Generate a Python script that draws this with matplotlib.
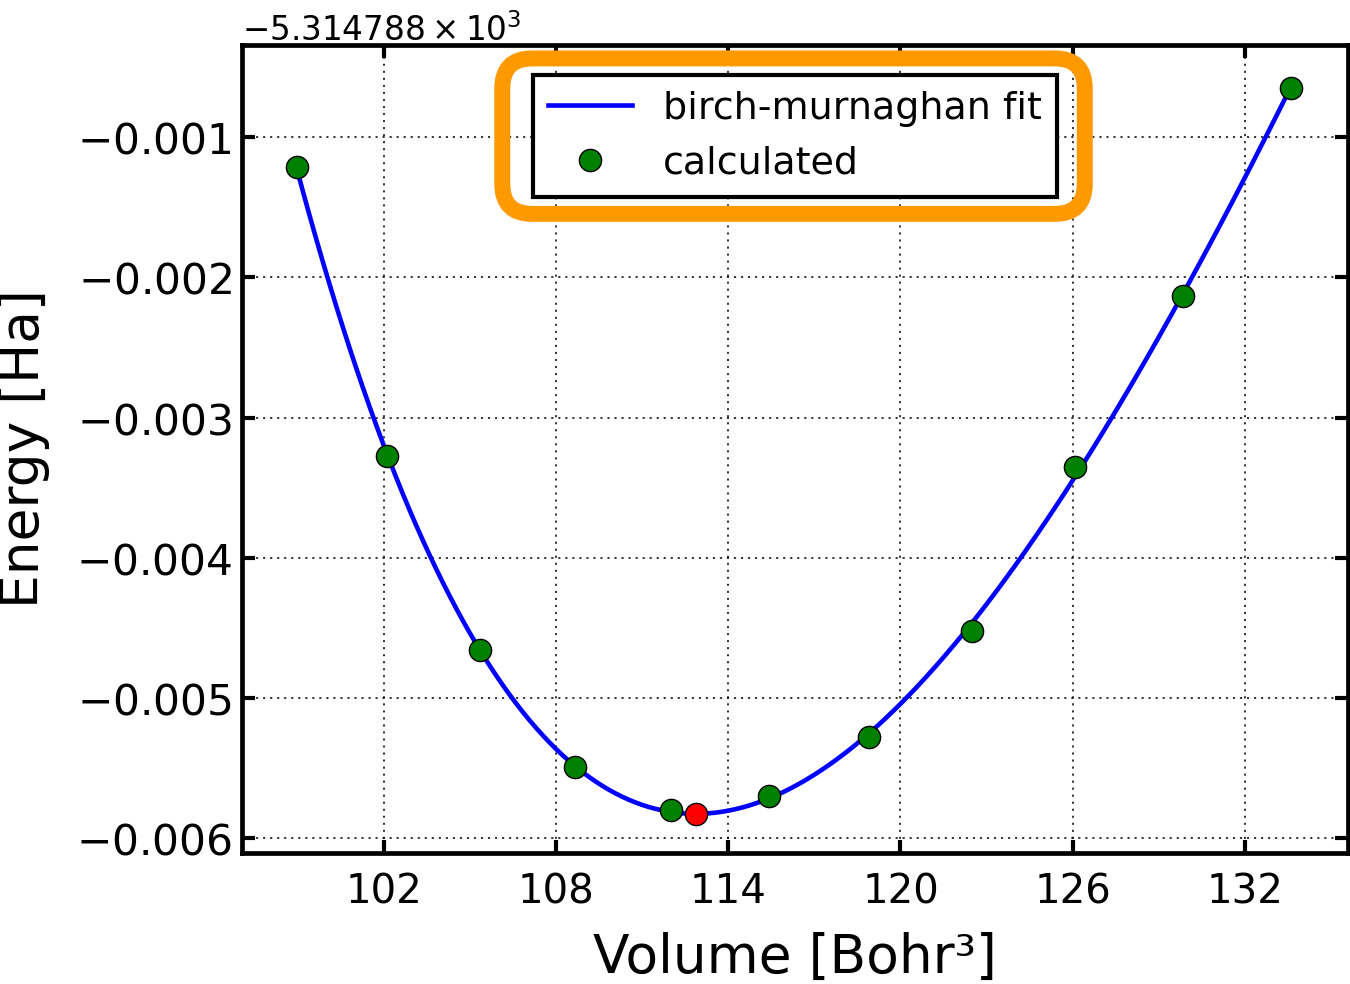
import numpy as np
import matplotlib
matplotlib.use('Agg')
import matplotlib.pyplot as plt
from matplotlib.ticker import ScalarFormatter
from matplotlib.patches import FancyBboxPatch
from matplotlib.transforms import IdentityTransform

# 体积-能量数据 (能量相对于偏移量)
e_offset = -5314.788
volume = [98.95, 102.11, 105.36, 108.64, 112.00, 115.43, 118.91, 122.48, 126.10, 129.84, 133.61]
energy_rel = [-0.001214, -0.003274, -0.004659, -0.005488, -0.005797, -0.005695,
              -0.005274, -0.004519, -0.003352, -0.002131, -0.000647]
v_min = [112.88]
e_min_rel = [-0.005826]

plt.rcParams['font.family'] = ['DejaVu Sans']
plt.rcParams['mathtext.fontset'] = 'dejavusans'

v = np.array(volume)
e = np.array(energy_rel)
# birch-murnaghan: E是 V^(-2/3) 的三次多项式
coef = np.polyfit(v ** (-2.0 / 3.0), e, 3)
vfit = np.linspace(v.min(), v.max(), 300)
efit = np.polyval(coef, vfit ** (-2.0 / 3.0))

fig = plt.figure(figsize=(13.5, 9.84), dpi=100)
ax = fig.add_axes([0.1793, 0.1331, 0.8192, 0.8212])

ax.plot(vfit, efit + e_offset, c='blue', lw=3.3, label='birch-murnaghan fit', zorder=3)
ax.plot(v, e + e_offset, 'o', c='green', mec='black', mew=1.0, ms=16, label='calculated', zorder=4)
ax.plot(v_min, np.array(e_min_rel) + e_offset, 'o', c='red', mec='black', mew=1.0, ms=16, zorder=5)

ax.set_xlim(97.05, 135.6)
ax.set_ylim(e_offset - 0.006105, e_offset - 0.000342)
ax.set_xticks(np.arange(102, 133, 6))
ax.set_yticks(e_offset + np.array([-0.006, -0.005, -0.004, -0.003, -0.002, -0.001]))

fmt = ScalarFormatter(useOffset=e_offset, useMathText=True)
ax.yaxis.set_major_formatter(fmt)
ax.yaxis.get_offset_text().set_fontsize(23.5)

ax.grid(True, color='k', lw=1.1, linestyle=(0, (1.4, 3.2)))
ax.tick_params(which='major', direction='in', length=9.5, width=3.0,
               top=True, right=True, labelsize=29)
ax.tick_params(axis='y', pad=7, labelsize=30.5)
ax.tick_params(axis='x', pad=14)
for s in ax.spines.values():
    s.set_linewidth(3.4)

ax.set_xlabel('Volume [Bohr³]', fontsize=38.4, labelpad=14)
ax.set_ylabel('Energy [Ha]', fontsize=38.4, labelpad=19)

leg = ax.legend(loc='upper center', fontsize=27.4, numpoints=1, fancybox=False,
                borderaxespad=0.8, borderpad=0.4, handlelength=2.2, framealpha=1)
leg.get_frame().set_edgecolor('black')
leg.get_frame().set_linewidth(3.0)

# 橙色圆角框
fig.canvas.draw()
bb = leg.get_window_extent()
box = FancyBboxPatch((bb.x0 - 31, bb.y0 - 17), bb.width + 59, bb.height + 34,
                     boxstyle='round,pad=0,rounding_size=30', transform=IdentityTransform(),
                     fill=False, edgecolor='#FF9900', lw=11.5, zorder=10)
fig.patches.append(box)

fig.savefig('out.png', dpi=100)
